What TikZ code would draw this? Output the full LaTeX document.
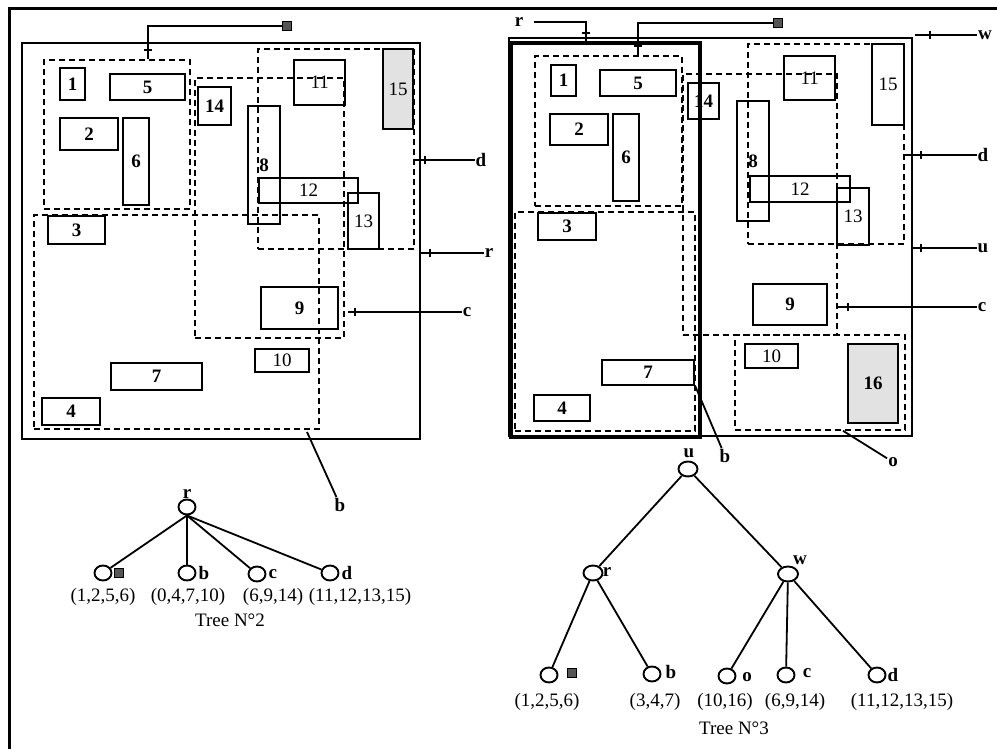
\documentclass[tikz,border=0pt]{standalone}
\usepackage{fontspec}
\setmainfont{Liberation Serif}
\usetikzlibrary{arrows.meta, positioning, shapes.geometric, decorations.markings}
\definecolor{ink}{HTML}{000000}
\definecolor{shade}{HTML}{E2E2E2}
\definecolor{chip}{HTML}{555555}
\tikzset{
  pageframe/.style={draw=ink, line width=3pt},
  zone/.style={draw=ink, line width=2pt, anchor=north west, inner sep=0pt},
  bigzone/.style={zone, line width=3.8pt},
  grp/.style={draw=ink, line width=1.8pt, dash pattern=on 6pt off 4pt, anchor=north west, inner sep=0pt},
  cell/.style={draw=ink, line width=2.4pt, anchor=north west, inner sep=0pt, font=\bfseries\fontsize{19}{21}\selectfont},
  thincell/.style={cell, font=\fontsize{19}{21}\selectfont},
  graycell/.style={cell, fill=shade},
  tag/.style={font=\bfseries\fontsize{19}{21}\selectfont, inner sep=1pt},
  chipbox/.style={draw=ink, fill=chip, line width=1pt, minimum size=9pt, inner sep=0pt},
  ptr/.style={line width=1.8pt, postaction={decorate},
    decoration={markings, mark=at position -#1 with {\draw[line width=1.6pt] (0,-4pt) -- (0,4pt);}}},
  ptr/.default=9pt,
  branch/.style={draw=ink, line width=1.8pt},
  vtx/.style={ellipse, draw=ink, line width=1.9pt, minimum width=17pt, minimum height=15pt, inner sep=0pt},
  setlabel/.style={font=\fontsize{19}{21}\selectfont, inner sep=0pt}
}

\begin{document}
\begin{tikzpicture}[x=1pt,y=1pt]
\useasboundingbox (0,0) rectangle (997,748);
\draw[pageframe] (9,-10) -- (9,739) -- (1010,739);

% left layout
\node[zone, minimum width=398pt, minimum height=396pt] (lR) at (21,706) {};

\node[cell, minimum width=25pt, minimum height=32pt] (l1) at (59,681) {1};
\node[cell, minimum width=75pt, minimum height=26pt] (l5) at (109,675) {5};
\node[cell, minimum width=58pt, minimum height=32pt] (l2) at (59,631) {2};
\node[cell, minimum width=26pt, minimum height=87pt] (l6) at (122,631) {6};
\node[cell, minimum width=33pt, minimum height=38pt] (l14) at (197,662) {14};
\node[cell, minimum width=57pt, minimum height=28pt] (l3) at (47,533) {3};
\node[cell, minimum width=91pt, minimum height=27pt] (l7) at (110,386) {7};
\node[cell, minimum width=58pt, minimum height=27pt] (l4) at (41,351) {4};
\node[thincell, minimum width=51pt, minimum height=45pt] (l11) at (293,689) {11};
\node[graycell, font=\fontsize{19}{21}\selectfont, minimum width=30pt, minimum height=80pt] (l15) at (382,700) {15};
\node[cell, minimum width=32pt, minimum height=118pt] (l8) at (247,643) {8};
\node[thincell, minimum width=99pt, minimum height=25pt] (l12) at (258,571) {12};
\node[thincell, minimum width=31pt, minimum height=56pt] (l13) at (347,556) {13};
\node[cell, minimum width=77pt, minimum height=42pt] (l9) at (260,462) {9};
\node[thincell, minimum width=54pt, minimum height=23pt] (l10) at (254,400) {10};

\node[grp, minimum width=146pt, minimum height=149pt] (lA) at (43,689) {};
\node[grp, minimum width=285pt, minimum height=214pt] (lB) at (33,534) {};
\node[grp, minimum width=149pt, minimum height=260pt] (lC) at (194,671) {};
\node[grp, minimum width=156pt, minimum height=200pt] (lD) at (257,700) {};

\node[chipbox] (lsq) at (287,722) {};
\draw[ptr] (lsq.west) -| ([xshift=105pt]lA.north west);
\node[tag] (ld) at (481,588) {d};
\draw[ptr=10pt] (ld.west) -- (ld.west -| lD.east);
\node[tag] (lr) at (489,495) {r};
\draw[ptr] (lr.west) -- (lr.west -| lR.east);
\node[tag] (lc) at (467,436) {c};
\draw[ptr=7pt] (lc.west) -- ([xshift=3pt]lc.west -| lC.east);
\node[tag] (lb) at (340,243) {b};
\coordinate (lbtip) at (307,316);
\draw[branch] (lb) -- (lbtip);

% right layout
\node[zone, line width=1.7pt, minimum width=403pt, minimum height=398pt] (rU) at (508,711) {};

\node[cell, minimum width=25pt, minimum height=31pt] (r1) at (550,684) {1};
\node[cell, minimum width=76pt, minimum height=26pt] (r5) at (599,679) {5};
\node[cell, minimum width=58pt, minimum height=31pt] (r2) at (549,635) {2};
\node[cell, minimum width=26pt, minimum height=87pt] (r6) at (612,635) {6};
\node[cell, minimum width=31pt, minimum height=36pt] (r14) at (687,666) {14};
\node[cell, minimum width=58pt, minimum height=27pt] (r3) at (537,536) {3};
\node[cell, minimum width=92pt, minimum height=25pt] (r7) at (601,389) {7};
\node[cell, minimum width=56pt, minimum height=26pt] (r4) at (533,354) {4};
\node[thincell, minimum width=51pt, minimum height=44pt] (r11) at (783,693) {11};
\node[thincell, minimum width=32pt, minimum height=81pt] (r15) at (871,705) {15};
\node[cell, minimum width=32pt, minimum height=120pt] (r8) at (736,648) {8};
\node[thincell, minimum width=100pt, minimum height=26pt] (r12) at (749,573) {12};
\node[thincell, minimum width=32pt, minimum height=57pt] (r13) at (836,561) {13};
\node[cell, minimum width=74pt, minimum height=41pt] (r9) at (752,465) {9};
\node[thincell, minimum width=53pt, minimum height=24pt] (r10) at (744,405) {10};
\node[graycell, minimum width=50pt, minimum height=79pt] (r16) at (847,405) {16};

\node[grp, minimum width=147pt, minimum height=150pt] (rA) at (534,693) {};
\node[grp, minimum width=180pt, minimum height=219pt] (rB) at (514,537) {};
\node[grp, minimum width=154pt, minimum height=261pt] (rC) at (682,675) {};
\node[grp, minimum width=156pt, minimum height=200pt] (rD) at (747,705) {};
\node[grp, minimum width=170pt, minimum height=95pt] (rO) at (734,414) {};
\node[bigzone, minimum width=189pt, minimum height=394pt] (rR) at (509,707) {};

\node[tag] (rr) at (519,726) {r};
\draw[ptr=8pt] ([xshift=10pt]rr.east) -| ([xshift=77pt]rR.north west);
\node[chipbox] (rsq) at (778,725) {};
\draw[ptr] (rsq.west) -| ([xshift=104pt]rA.north west);
\node[tag] (rw) at (985,713) {w};
\coordinate (rwtip) at (915,713);
\draw[ptr=15pt] (rw.west) -- (rwtip);
\node[tag] (rd) at (983,593) {d};
\draw[ptr=16pt] (rd.west) -- (rd.west -| rD.east);
\node[tag] (ru) at (983,500) {u};
\draw[ptr=8pt] (ru.west) -- (ru.west -| rU.east);
\node[tag] (rc) at (982,441) {c};
\draw[ptr=10pt] (rc.west) -- (rc.west -| rC.east);
\node[tag] (ro) at (893,286) {o};
\draw[branch] (ro) -- ([xshift=109pt]rO.south west);
\node[tag] (rb) at (725,292) {b};
\draw[branch] (rb) -- (r7.south east);

% tree 2
\node[vtx] (t2r) at (187,241) {};
\node[tag, above=-1pt of t2r] (t2rl) {r};
\node[vtx] (t2a) at (103,175) {};
\node[vtx] (t2b) at (187,175) {};
\node[vtx] (t2c) at (257,174) {};
\node[vtx] (t2d) at (330,175) {};
\node[chipbox, right=2pt of t2a] (t2sq) {};
\node[tag, right=1pt of t2b] (t2bl) {b};
\node[tag, right=1pt of t2c] (t2cl) {c};
\node[tag, right=1pt of t2d] (t2dl) {d};
\foreach \leaf in {a,b,c,d}
  \draw[branch] (t2r.south) -- (t2\leaf);
\node[setlabel] (t2sa) at (103,151) {(1,2,5,6)};
\node[setlabel] (t2sb) at (188,151) {(0,4,7,10)};
\node[setlabel] (t2sc) at (273,151) {(6,9,14)};
\node[setlabel] (t2sd) at (360,151) {(11,12,13,15)};
\node[setlabel] (t2name) at (230,128) {Tree N°2};

% tree 3
\node[vtx, minimum width=19pt] (t3u) at (688,279) {};
\node[vtx, minimum width=19pt] (t3r) at (593,175) {};
\node[vtx, minimum width=20pt] (t3w) at (788,174) {};
\node[tag] (t3ul) at (689,295) {u};
\node[tag] (t3rl) at (607,176) {r};
\node[tag] (t3wl) at (800,188) {w};
\node[vtx] (t3a) at (549,73) {};
\node[vtx] (t3b) at (652,74) {};
\node[vtx] (t3o) at (727,72) {};
\node[vtx] (t3c) at (786,73) {};
\node[vtx] (t3d) at (877,73) {};
\node[chipbox] (t3sq) at (572,75) {};
\node[tag] (t3bl) at (671,76) {b};
\node[tag] (t3ol) at (747,71) {o};
\node[tag] (t3cl) at (807,75) {c};
\node[tag] (t3dl) at (893,73) {d};
\draw[branch] (t3u) -- (t3r);
\draw[branch] (t3u) -- (t3w);
\draw[branch] (t3r) -- (t3a);
\draw[branch] (t3r) -- (t3b);
\foreach \leaf in {o,c,d}
  \draw[branch] (t3w) -- (t3\leaf);
\node[setlabel] (t3sa) at (547,46) {(1,2,5,6)};
\node[setlabel] (t3sb) at (655,46) {(3,4,7)};
\node[setlabel] (t3so) at (725,46) {(10,16)};
\node[setlabel] (t3sc) at (795,46) {(6,9,14)};
\node[setlabel] (t3sd) at (902,46) {(11,12,13,15)};
\node[setlabel] (t3name) at (734,20) {Tree N°3};

\end{tikzpicture}
\end{document}
